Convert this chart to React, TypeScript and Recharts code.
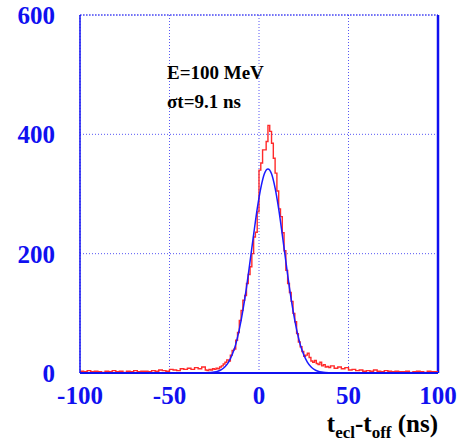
import { LineChart, Line, XAxis, YAxis, CartesianGrid, ReferenceLine } from "recharts"

// histogram: 2 ns bins in the tails, 1 ns bins in the core
const leftTailStart = -100
const leftTailCounts = [
  3, 2, 4, 2, 3, 2, 1, 3, 2, 4,
  2, 3, 1, 3, 2, 4, 2, 3, 3, 2,
  4, 3, 5, 4, 3, 6, 5, 4, 7, 6,
  8, 6, 9, 7, 10,
]
const coreStart = -30
const coreCounts = [
  5, 4, 6, 5, 7, 6, 8, 7, 10, 12,
  15, 18, 22, 20, 30, 38, 40, 55, 68, 88,
  105, 122, 130, 150, 165, 178, 200, 228, 236, 270,
  340, 352, 374, 374, 388, 415, 405, 385, 360, 335,
  305, 275, 262, 235, 205, 172, 150, 135, 120, 100,
  86, 66, 52, 44, 36, 28, 30, 33, 26, 20,
  18, 21, 16, 14, 18, 12, 14, 10, 11, 9,
]
const rightTailStart = 40
const rightTailCounts = [
  12, 8, 10, 7, 9, 5, 6, 4, 5, 3,
  4, 3, 5, 3, 2, 4, 3, 2, 3, 2,
  2, 3, 1, 2, 3, 2, 1, 3, 2, 2,
]

// gaussian fit (sigma 9.1 ns)
const fitT = [
  -100, -35, -31, -29, -27, -25, -23, -21, -19, -17, -15, -13, -11, -9, -7, -5, -3, -1,
  1, 3, 5, 7, 9, 11, 13, 15, 17, 19, 21, 23, 25, 27, 29, 31, 33, 35, 37, 39, 41, 45, 100,
]
const fitN = [
  0, 0, 0.1, 0.3, 0.7, 1.5, 3, 5.8, 10.6, 18.4, 30.5, 48, 73, 105, 143, 187, 232, 275,
  310, 334, 342, 334, 310, 275, 232, 187, 143, 105, 73, 48, 30.5, 18.4, 10.6, 5.8, 3, 1.5, 0.7, 0.3, 0.1, 0, 0,
]

const xTicks = [-100, -50, 0, 50, 100]
const yTicks = [0, 200, 400, 600]

const histData = [
  ...leftTailCounts.map((n, i) => ({ t: leftTailStart + 2 * i, n })),
  ...coreCounts.map((n, i) => ({ t: coreStart + i, n })),
  ...rightTailCounts.map((n, i) => ({ t: rightTailStart + 2 * i, n })),
  { t: 100, n: rightTailCounts[rightTailCounts.length - 1] },
]
const fitData = fitT.map((t, i) => ({ t, n: fitN[i] }))

const blue = "#1010f0"
const serif = "'Liberation Serif', 'Times New Roman', 'DejaVu Serif', serif"
const tickFont = {
  fontFamily: serif,
  fontWeight: "bold" as const,
  fontSize: 25,
  fill: blue,
}

export default function App() {
  return (
    <div style={{ position: "absolute", left: 0, top: 0, width: 457, height: 447, background: "#fff" }}>
      <LineChart width={457} height={447} margin={{ top: 15, right: 19, left: 0, bottom: 0 }}>
        <CartesianGrid stroke={blue} strokeOpacity={0.7} strokeDasharray="1 2" />
        <XAxis
          dataKey="t"
          type="number"
          domain={[-100, 100]}
          ticks={xTicks}
          allowDuplicatedCategory={false}
          height={74}
          axisLine={{ stroke: blue, strokeWidth: 2 }}
          tickLine={false}
          tickSize={0}
          tickMargin={13}
          tick={tickFont}
        />
        <YAxis
          type="number"
          domain={[0, 600]}
          ticks={yTicks}
          width={80}
          axisLine={{ stroke: blue, strokeWidth: 1.5 }}
          tickLine={false}
          tickSize={0}
          tickMargin={25}
          tick={tickFont}
        />
        <ReferenceLine y={600} stroke={blue} strokeOpacity={0.7} strokeDasharray="2 1" />
        <ReferenceLine x={100} stroke={blue} strokeWidth={2.5} />
        <Line
          data={histData}
          dataKey="n"
          type="stepAfter"
          stroke="#ff2a2a"
          strokeWidth={1.4}
          dot={false}
          isAnimationActive={false}
        />
        <Line
          data={fitData}
          dataKey="n"
          type="monotone"
          stroke="#1a1aff"
          strokeWidth={1.5}
          dot={false}
          isAnimationActive={false}
        />
      </LineChart>
      <div
        style={{
          position: "absolute",
          left: 167,
          top: 58,
          fontFamily: serif,
          fontWeight: "bold",
          fontSize: 19,
          lineHeight: "29px",
          color: "#000",
          whiteSpace: "nowrap",
        }}
      >
        <div>E=100 MeV</div>
        <div>σt=9.1 ns</div>
      </div>
      <div
        style={{
          position: "absolute",
          right: 19,
          top: 410,
          fontFamily: serif,
          fontWeight: "bold",
          fontSize: 25,
          color: "#000",
          whiteSpace: "nowrap",
        }}
      >
        t<sub style={{ fontSize: 17 }}>ecl</sub>-t<sub style={{ fontSize: 17 }}>off</sub> (ns)
      </div>
    </div>
  )
}
